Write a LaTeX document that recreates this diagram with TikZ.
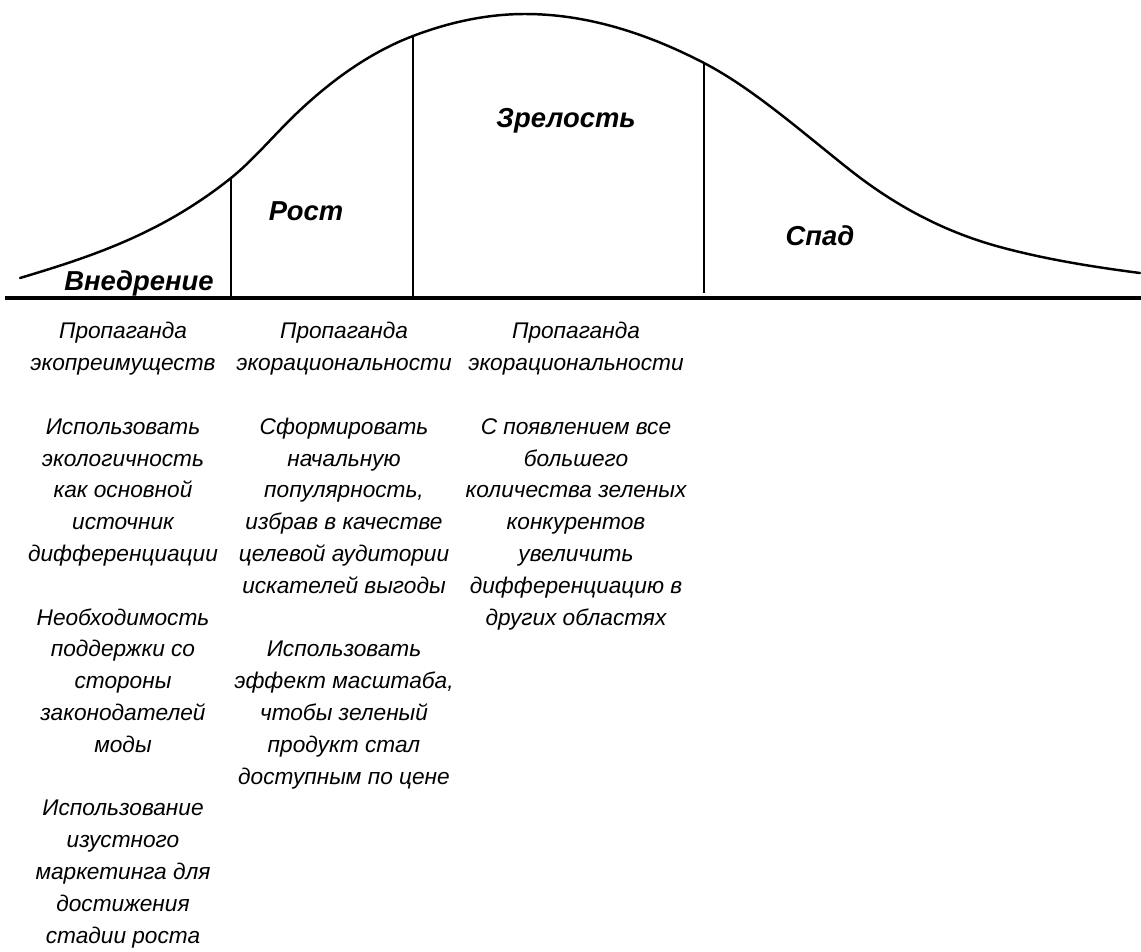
\documentclass[tikz,border=0pt]{standalone}
\usepackage{fontspec}
\setmainfont{Liberation Sans}
\begin{document}
\begin{tikzpicture}[x=0.02cm,y=-0.02cm,
  curve/.style={line width=1.4pt, line join=round, line cap=round},
  divider/.style={line width=1.1pt},
  axis/.style={line width=1.8pt},
  stage/.style={font=\fontsize{15.6}{18}\selectfont\bfseries\itshape, inner sep=0pt, anchor=base},
  notes/.style={font=\fontsize{12.9}{18.1}\selectfont\itshape, align=center, anchor=north, inner sep=0pt}]
\useasboundingbox (0,0) rectangle (1141,951);

% points where the stage boundaries meet the curve
\coordinate (t1) at (231,178); \coordinate (b1) at (231,298);
\coordinate (t2) at (413,36);  \coordinate (b2) at (413,298);
\coordinate (t3) at (704,63);  \coordinate (b3) at (704,293);

% life-cycle curve
\draw[curve] (20,278)
  .. controls (90.3,256.9) and (160.7,234.2) .. (t1)
  .. controls (253,160.4) and (275,133.9) .. (297,113)
  .. controls (335.7,76.2) and (374.3,50.7) .. (t2)
  .. controls (450.3,21.8) and (487.7,14) .. (525,14)
  .. controls (584.7,14) and (644.3,32) .. (t3)
  .. controls (752.7,88.3) and (801.3,131.5) .. (850,170)
  .. controls (900,209.5) and (950,233.5) .. (1000,247)
  .. controls (1046.7,259.6) and (1093.3,266.9) .. (1140,273);

% time axis
\coordinate (axL) at (5,298);
\coordinate (axR) at (1141,298);
\draw[axis] (axL) -- (axR);

% stage boundaries
\draw[divider] (t1) -- (b1);
\draw[divider] (t2) -- (b2);
\draw[divider] (t3) -- (b3);

% stage names
\node[stage] (intro) at (139,290) {Внедрение};
\node[stage] (growth) at (306,220) {Рост};
\node[stage] (mature) at (566,127) {Зрелость};
\node[stage] (decline) at (820,245) {Спад};

% recommendations for each stage
\node[notes] (n1) at (123,322) {Пропаганда\\экопреимуществ\\[18.1pt]
  Использовать\\экологичность\\как основной\\источник\\дифференциации\\[18.1pt]
  Необходимость\\поддержки со\\стороны\\законодателей\\моды\\[18.1pt]
  Использование\\изустного\\маркетинга для\\достижения\\стадии роста};
\node[notes] (n2) at (344,322) {Пропаганда\\экорациональности\\[18.1pt]
  Сформировать\\начальную\\популярность,\\избрав в качестве\\целевой аудитории\\искателей выгоды\\[18.1pt]
  Использовать\\эффект масштаба,\\чтобы зеленый\\продукт стал\\доступным по цене};
\node[notes] (n3) at (576,322) {Пропаганда\\экорациональности\\[18.1pt]
  С появлением все\\большего\\количества зеленых\\конкурентов\\увеличить\\дифференциацию в\\других областях};
\end{tikzpicture}
\end{document}
